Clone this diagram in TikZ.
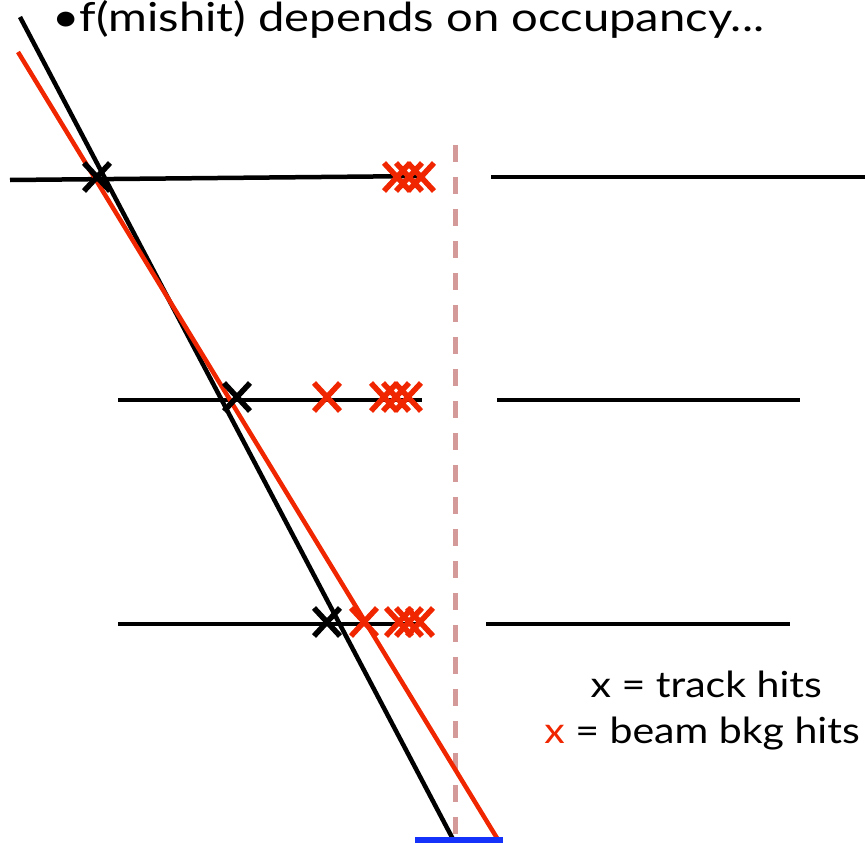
\documentclass[tikz,border=0pt]{standalone}
\usepackage{fontspec}
\setmainfont{Lato}
\definecolor{hitred}{RGB}{240,38,0}
\definecolor{cutpink}{RGB}{212,154,154}
\definecolor{padblue}{RGB}{20,50,250}
\begin{document}
\begin{tikzpicture}[x=1pt,y=-1pt,
  layerline/.style={line width=4.5pt,black},
  trackline/.style={line width=4.5pt},
  cutline/.style={line width=5pt,cutpink,dash pattern=on 17pt off 15pt},
  titletext/.style={font=\fontsize{40}{46}\selectfont,inner sep=0pt},
  legtext/.style={font=\fontsize{36}{42}\selectfont,inner sep=0pt},
  xmark/.pic={\draw[line width=5.5pt] (-13,-14)--(13,14) (-13,14)--(13,-14);}
]
\useasboundingbox (0,0) rectangle (865,843);
% title
\node[titletext,anchor=base west] (title) at (52,32) {\scalebox{1.18}[1]{\textbullet f(mishit) depends on occupancy...}};
% cut line
\coordinate (cuttop) at (455,145);
\coordinate (cutbot) at (455,843);
\draw[cutline] (cuttop) -- (cutbot);
% layers
\coordinate (l1a) at (10,180); \coordinate (l1b) at (425,176);
\coordinate (l1c) at (491,177); \coordinate (l1d) at (865,177);
\coordinate (l2a) at (118,400); \coordinate (l2b) at (422,400);
\coordinate (l2c) at (497,400); \coordinate (l2d) at (800,400);
\coordinate (l3a) at (118,624); \coordinate (l3b) at (420,624);
\coordinate (l3c) at (486,624); \coordinate (l3d) at (790,624);
\draw[layerline] (l1a) -- (l1b);
\draw[layerline] (l1c) -- (l1d);
\draw[layerline] (l2a) -- (l2b);
\draw[layerline] (l2c) -- (l2d);
\draw[layerline] (l3a) -- (l3b);
\draw[layerline] (l3c) -- (l3d);
% tracks
\coordinate (bt) at (20,17); \coordinate (bb) at (455,843);
\coordinate (rt) at (18,52); \coordinate (rb) at (500,843);
\draw[trackline,black] (bt) -- (bb);
\draw[trackline,hitred] (rt) -- (rb);
% pad
\coordinate (pa) at (415,840); \coordinate (pb) at (503,840);
\draw[line width=6pt,padblue] (pa) -- (pb);
% track hits
\pic[black] at (97,177) {xmark};
\pic[black] at (237,397) {xmark};
\pic[black] at (327,622) {xmark};
% beam background hits
\foreach \x in {397,409,421} \pic[hitred] at (\x,177) {xmark};
\pic[hitred] at (327,397) {xmark};
\foreach \x in {384,396,408} \pic[hitred] at (\x,397) {xmark};
\pic[hitred] at (364,622) {xmark};
\foreach \x in {399,409,420} \pic[hitred] at (\x,622) {xmark};
% legend
\node[legtext,anchor=base east] (leg1) at (822,697) {\scalebox{1.14}[1]{x = track hits}};
\node[legtext,anchor=base east] (leg2) at (860,743) {\scalebox{1.14}[1]{\textcolor{hitred}{x} = beam bkg hits}};
\end{tikzpicture}
\end{document}
